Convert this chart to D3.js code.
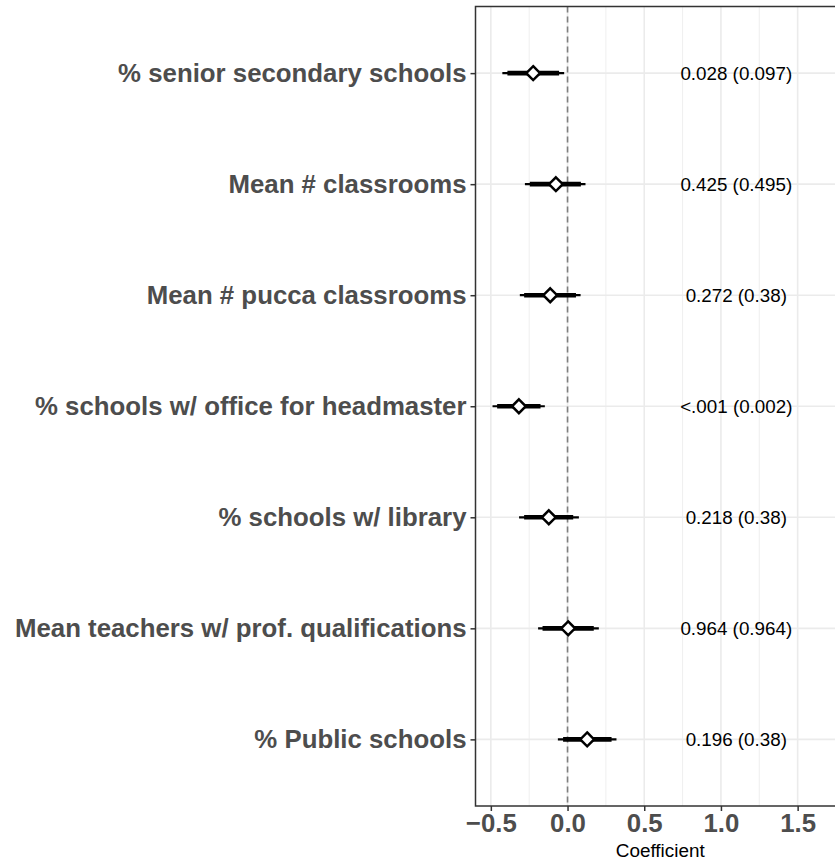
<!DOCTYPE html>
<html>
<head>
<meta charset="utf-8">
<script src="https://cdn.jsdelivr.net/npm/d3@7"></script>
<style>
  html, body { margin: 0; padding: 0; background: #fff; }
  svg { display: block; }
</style>
</head>
<body>
<svg id="chart" width="835" height="865"></svg>
<script>
// ---- data ----
const categories = [
  "% senior secondary schools",
  "Mean # classrooms",
  "Mean # pucca classrooms",
  "% schools w/ office for headmaster",
  "% schools w/ library",
  "Mean teachers w/ prof. qualifications",
  "% Public schools"
];
const estimates = [-0.224, -0.076, -0.113, -0.317, -0.122, 0.004, 0.128];
const ciInnerLow  = [-0.392, -0.246, -0.283, -0.459, -0.283, -0.163, -0.029];
const ciInnerHigh = [-0.055,  0.087,  0.055, -0.176,  0.037,  0.171,  0.287];
const ciOuterLow  = [-0.425, -0.278, -0.311, -0.489, -0.316, -0.192, -0.063];
const ciOuterHigh = [-0.022,  0.117,  0.085, -0.148,  0.074,  0.204,  0.319];
const pLabels = [
  "0.028 (0.097)", "0.425 (0.495)", "0.272 (0.38)", "<.001 (0.002)",
  "0.218 (0.38)", "0.964 (0.964)", "0.196 (0.38)"
];
const labelX = 1.1;
const xTicks = [-0.5, 0, 0.5, 1.0, 1.5];
const xMinor = [-0.25, 0.25, 0.75, 1.25, 1.75];
const xTitle = "Coefficient";

// ---- layout ----
const svg = d3.select("#chart");
const panel = { left: 475.5, top: 6.5, bottom: 806 };
const x = d3.scaleLinear().domain([-0.6, 1.8]).range([panel.left, panel.left + 2.4 * 153.4]);
const y = d3.scalePoint().domain(categories).range([panel.top, panel.bottom]).padding(0.6);
const panelRight = x(1.8);

const rows = categories.map((c, i) => ({
  cat: c, est: estimates[i], il: ciInnerLow[i], ih: ciInnerHigh[i],
  ol: ciOuterLow[i], oh: ciOuterHigh[i], lab: pLabels[i]
}));

// grid
const g = svg.append("g");
g.selectAll("line.minor").data(xMinor).join("line")
  .attr("x1", d => x(d)).attr("x2", d => x(d))
  .attr("y1", panel.top).attr("y2", panel.bottom)
  .attr("stroke", "#ebebeb").attr("stroke-width", 0.8);
g.selectAll("line.majx").data(xTicks).join("line")
  .attr("x1", d => x(d)).attr("x2", d => x(d))
  .attr("y1", panel.top).attr("y2", panel.bottom)
  .attr("stroke", "#ebebeb").attr("stroke-width", 1.6);
g.selectAll("line.majy").data(categories).join("line")
  .attr("x1", panel.left).attr("x2", panelRight)
  .attr("y1", d => y(d)).attr("y2", d => y(d))
  .attr("stroke", "#ebebeb").attr("stroke-width", 1.6);

// zero line
g.append("line")
  .attr("x1", x(0)).attr("x2", x(0))
  .attr("y1", panel.top).attr("y2", panel.bottom)
  .attr("stroke", "#7f7f7f").attr("stroke-width", 1.6)
  .attr("stroke-dasharray", "6,4");

// intervals
g.selectAll("line.outer").data(rows).join("line")
  .attr("x1", d => x(d.ol)).attr("x2", d => x(d.oh))
  .attr("y1", d => y(d.cat)).attr("y2", d => y(d.cat))
  .attr("stroke", "#000").attr("stroke-width", 2.2);
g.selectAll("line.inner").data(rows).join("line")
  .attr("x1", d => x(d.il)).attr("x2", d => x(d.ih))
  .attr("y1", d => y(d.cat)).attr("y2", d => y(d.cat))
  .attr("stroke", "#000").attr("stroke-width", 4.6);

// diamonds
const r = 6.9;
g.selectAll("path.pt").data(rows).join("path")
  .attr("d", d => {
    const cx = x(d.est), cy = y(d.cat);
    return `M${cx},${cy - r}L${cx + r},${cy}L${cx},${cy + r}L${cx - r},${cy}Z`;
  })
  .attr("fill", "#fff").attr("stroke", "#000").attr("stroke-width", 2.5);

// p-value labels
g.selectAll("text.pl").data(rows).join("text")
  .attr("x", x(labelX)).attr("y", d => y(d.cat))
  .attr("dy", "0.35em")
  .attr("text-anchor", "middle")
  .attr("font-family", "Liberation Sans, Arial, sans-serif")
  .attr("font-size", 18.8).attr("fill", "#000")
  .text(d => d.lab);

// panel border
svg.append("rect")
  .attr("x", panel.left).attr("y", panel.top)
  .attr("width", panelRight - panel.left).attr("height", panel.bottom - panel.top)
  .attr("fill", "none").attr("stroke", "#333").attr("stroke-width", 1.5);

// y axis
const yAxis = svg.append("g").attr("transform", `translate(${panel.left},0)`)
  .call(d3.axisLeft(y).tickSize(5).tickPadding(4));
yAxis.select(".domain").remove();
yAxis.selectAll(".tick line").attr("stroke", "#333").attr("stroke-width", 1.5);
yAxis.selectAll(".tick text")
  .attr("font-family", "Liberation Sans, Arial, sans-serif")
  .attr("font-weight", "bold").attr("font-size", 25.8).attr("fill", "#4d4d4d");

// x axis
const fmt = d => d3.format(".1f")(d).replace("-", "\u2212");
const xAxis = svg.append("g").attr("transform", `translate(0,${panel.bottom})`)
  .call(d3.axisBottom(x).tickValues(xTicks).tickFormat(fmt).tickSize(5).tickPadding(3));
xAxis.select(".domain").remove();
xAxis.selectAll(".tick line").attr("stroke", "#333").attr("stroke-width", 1.5);
xAxis.selectAll(".tick text")
  .attr("font-family", "Liberation Sans, Arial, sans-serif")
  .attr("font-weight", "bold").attr("font-size", 25.8).attr("fill", "#4d4d4d");

// x title
svg.append("text")
  .attr("x", (panel.left + 835) / 2 + 5).attr("y", 857)
  .attr("text-anchor", "middle")
  .attr("font-family", "Liberation Sans, Arial, sans-serif")
  .attr("font-size", 18.9).attr("fill", "#000")
  .text(xTitle);
</script>
</body>
</html>
